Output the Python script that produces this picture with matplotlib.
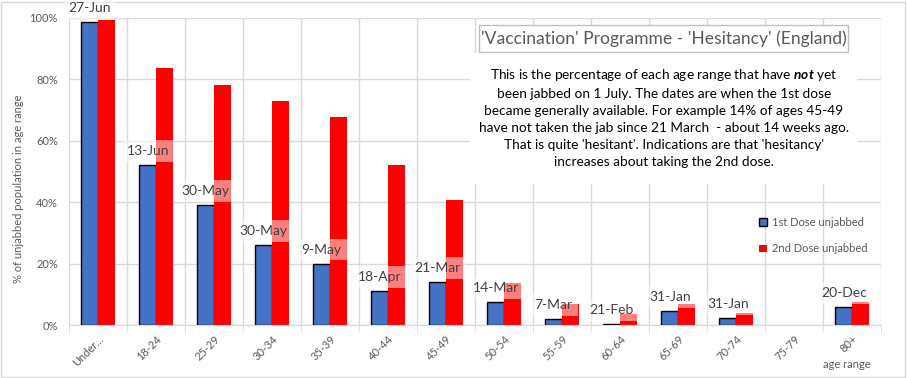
import matplotlib
matplotlib.use("Agg")
import matplotlib.pyplot as plt
from matplotlib.patches import Rectangle
import numpy as np

# values (percent unjabbed on 1 July)
ages = ['Under...', '18-24', '25-29', '30-34', '35-39', '40-44', '45-49',
        '50-54', '55-59', '60-64', '65-69', '70-74', '75-79', '80+']
dose1 = [98.7, 52.0, 39.0, 26.0, 20.0, 11.0, 14.0, 7.5, 2.0, 0.4, 4.6, 2.3, 0.0, 5.9]
dose2 = [99.3, 83.7, 78.2, 73.0, 67.7, 52.0, 40.7, 13.6, 7.0, 3.5, 6.8, 3.8, 0.0, 7.5]
dates = ['27-Jun', '13-Jun', '30-May', '30-May', '9-May', '18-Apr', '21-Mar',
         '14-Mar', '7-Mar', '21-Feb', '31-Jan', '31-Jan', '', '20-Dec']
yticks = [0, 20, 40, 60, 80, 100]

title = "'Vaccination' Programme - 'Hesitancy' (England)"
note = ("This is the percentage of each age range that have $\\mathbfit{not}$ yet\n"
        "been jabbed on 1 July. The dates are when the 1st dose\n"
        "became generally available. For example 14% of ages 45-49\n"
        "have not taken the jab since 21 March  - about 14 weeks ago.\n"
        "That is quite 'hesitant'. Indications are that 'hesitancy'\n"
        "increases about taking the 2nd dose.")

plt.rcParams['font.family'] = ['Lato', 'DejaVu Sans']
plt.rcParams['mathtext.fontset'] = 'custom'
plt.rcParams['mathtext.rm'] = 'Lato'
plt.rcParams['mathtext.bfit'] = 'Lato:italic:bold'

W, H = 907, 378
fig = plt.figure(figsize=(W / 100, H / 100), dpi=100)
ax = fig.add_axes([69 / W, 1 - 325 / H, 812 / W, 307 / H])

blue = '#4472C4'
red = '#FF0000'
grey = '#595959'
grid = '#D9D9D9'

x = np.arange(len(ages))
bw = 0.285
ax.bar(x - bw / 2, dose1, bw, color=blue, edgecolor='black',
       linewidth=[1.0 if v > 0 else 0 for v in dose1],
       label='1st Dose unjabbed', zorder=2)
ax.bar(x + bw / 2, dose2, bw, color=red, linewidth=0, label='2nd Dose unjabbed', zorder=2)

for xi, v, d in zip(x, dose1, dates):
    if not d:
        continue
    ax.annotate(d, (xi - bw / 2, v), xytext=(0, 14), textcoords='offset pixels',
                ha='center', va='center', fontsize=10, color='#404040', zorder=4,
                annotation_clip=False,
                bbox=dict(boxstyle='square,pad=0.35', fc='white', ec='none', alpha=0.5))

ax.set_xlim(-0.5, len(ages) - 0.5)
ax.set_ylim(0, 100)
ax.set_yticks(yticks)
ax.set_yticklabels([f'{t}%' for t in yticks])
ax.set_xticks(x)
ax.set_xticklabels(ages, rotation=45, ha='right', rotation_mode='anchor')
ax.set_xticks(np.arange(-0.5, len(ages)), minor=True)
ax.tick_params(axis='x', which='major', length=0, pad=6, labelsize=8, labelcolor=grey)
ax.tick_params(axis='x', which='minor', length=5, color=grid)
ax.tick_params(axis='y', length=0, pad=8, labelsize=8, labelcolor=grey)
ax.grid(axis='y', color=grid, linewidth=1, zorder=0)
ax.grid(axis='x', which='minor', color=grid, linewidth=1, zorder=0)
ax.set_axisbelow(True)
for s in ['top', 'right', 'left']:
    ax.spines[s].set_visible(False)
ax.spines['bottom'].set_color(grid)

fig.text(19 / W, 1 - 189 / H, '% of unjabbed population in age range', rotation=90,
         ha='center', va='center', fontsize=8, color=grey)
fig.text(847 / W, 1 - 364 / H, 'age range', ha='center', va='center',
         fontsize=8, color=grey)

leg = ax.legend(loc='upper left', bbox_to_anchor=(0.838, 0.385), frameon=False,
                fontsize=8, handlelength=0.7, handleheight=0.7, handletextpad=0.4,
                labelspacing=1.4)
for t in leg.get_texts():
    t.set_color(grey)

# white note box hiding the grid, and the title box
fig.add_artist(Rectangle((470 / W, 1 - 184 / H), 387 / W, 131 / H,
                         transform=fig.transFigure, fc='white', ec='none', zorder=1))
fig.add_artist(Rectangle((479 / W, 1 - 52 / H), 369 / W, 27 / H,
                         transform=fig.transFigure, fc='white', ec='#BFBFBF', lw=1, zorder=1))
fig.text(664 / W, 1 - 38.5 / H, title, ha='center', va='center', fontsize=12.6, color=grey)
fig.text(664 / W, 1 - 117.5 / H, note, ha='center', va='center', multialignment='center',
         fontsize=9.8, color='black', linespacing=1.5)

fig.add_artist(Rectangle((1 / W, 1 / H), (W - 3) / W, (H - 3) / H,
                         transform=fig.transFigure, fc='none', ec='#D9D9D9', lw=1, zorder=0))

fig.savefig('out.png', dpi=100)
